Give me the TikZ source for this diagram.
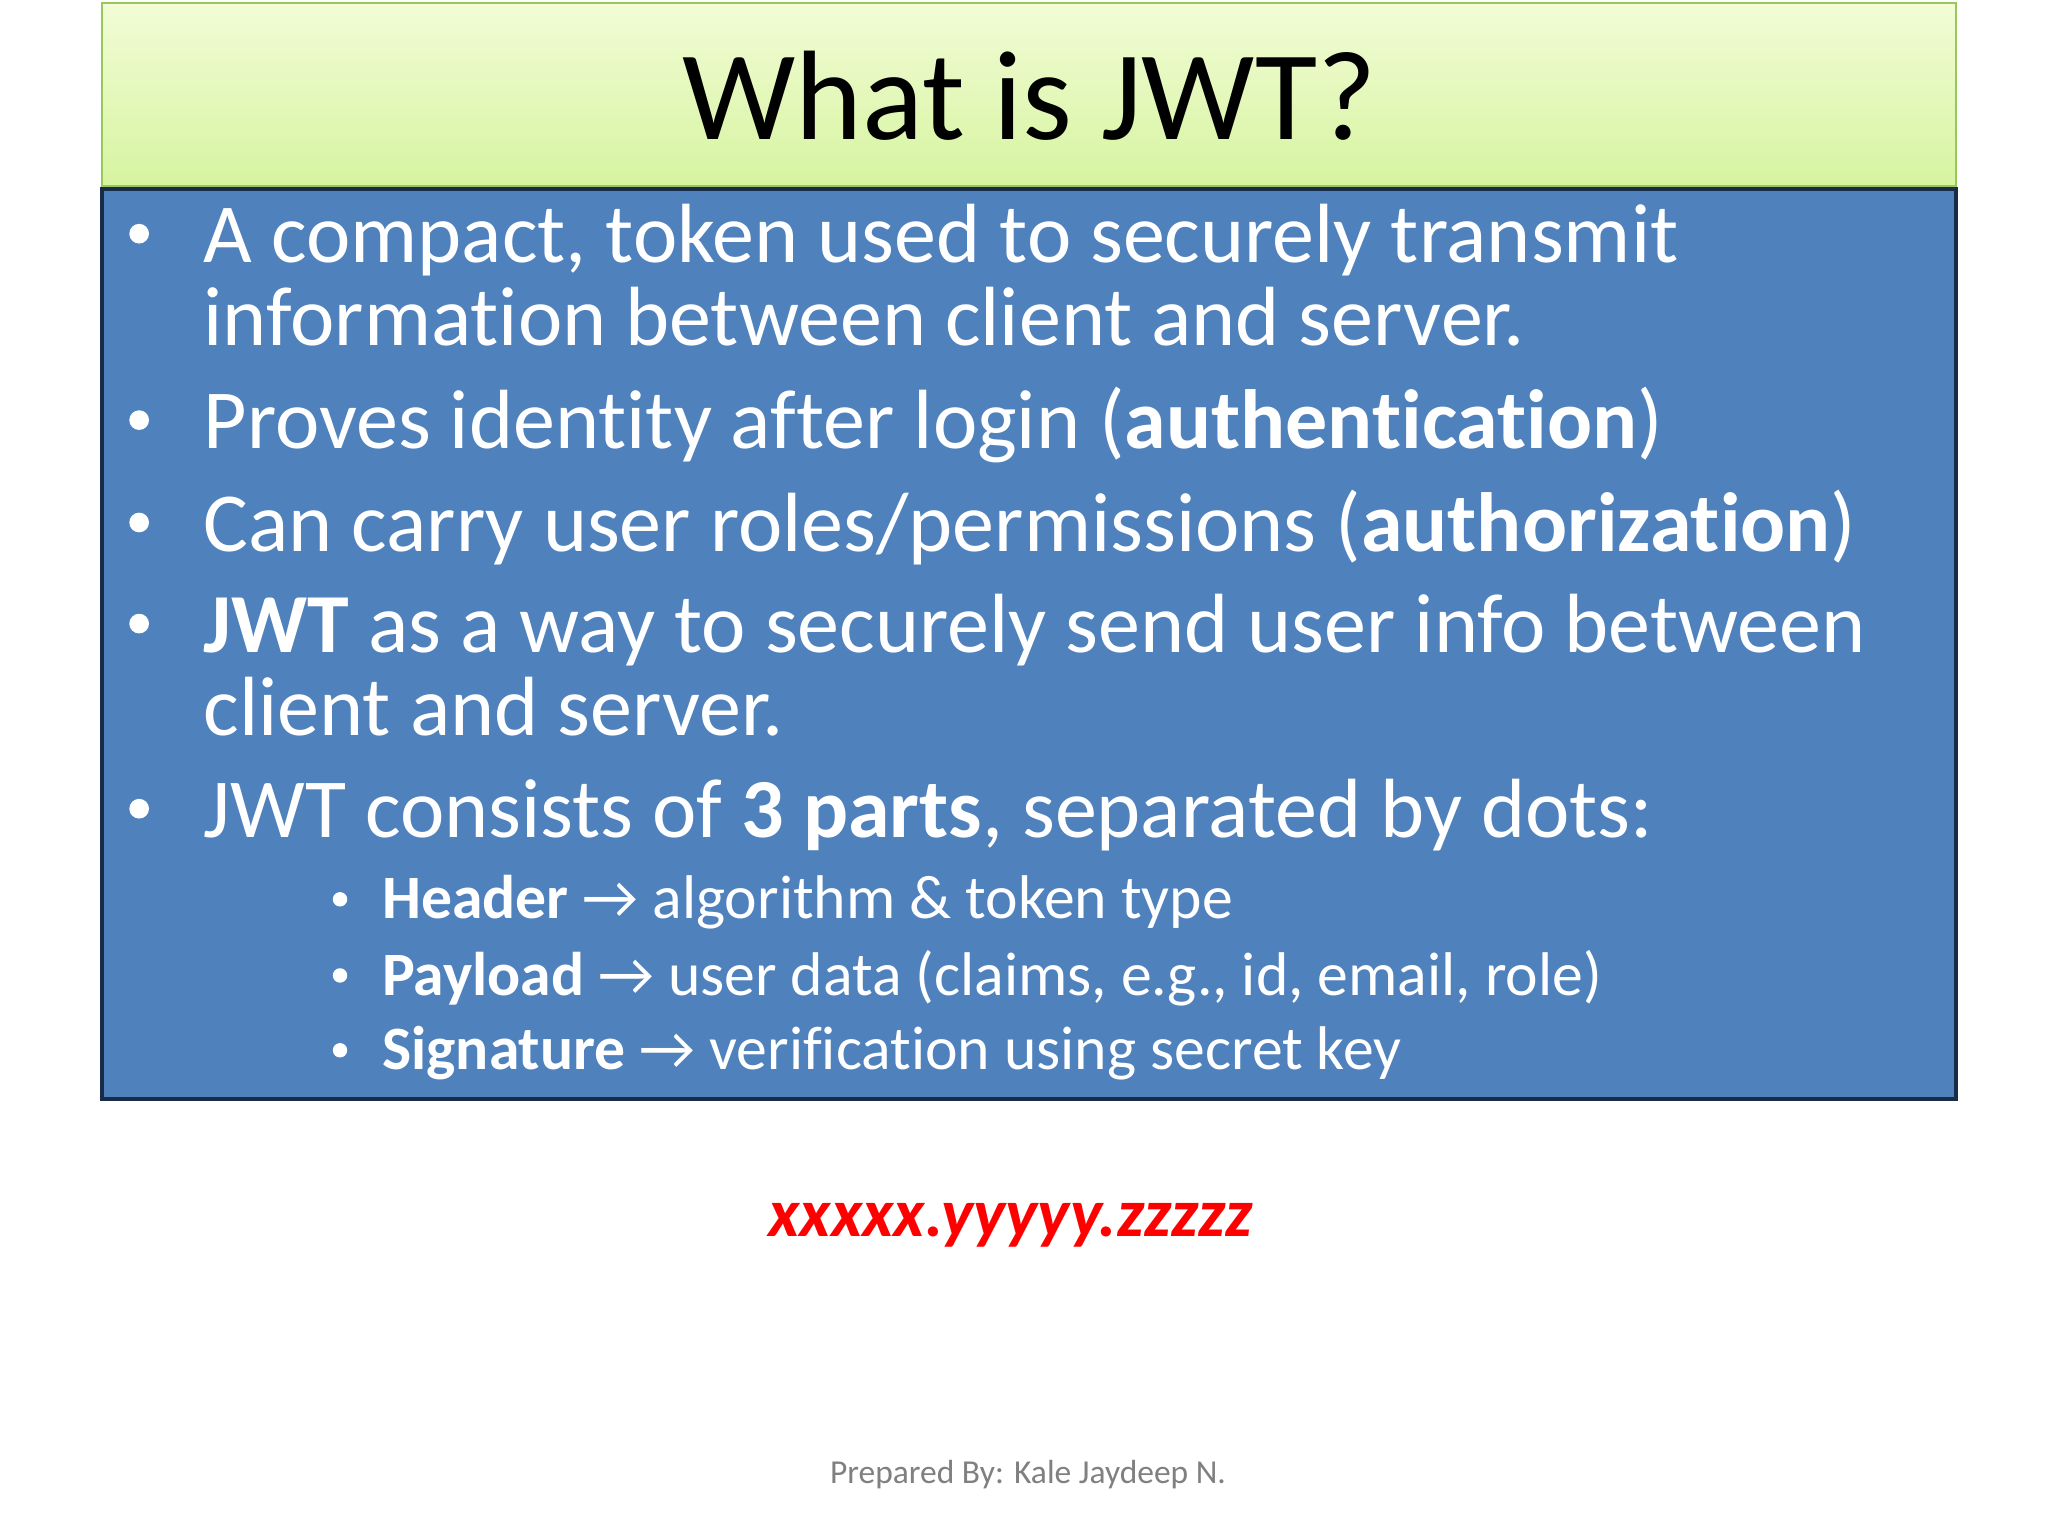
\documentclass[tikz,border=0pt]{standalone}
\usepackage{fontspec}
\setmainfont[Ligatures={NoCommon}]{Carlito}
\definecolor{blu}{RGB}{79,129,189}
\definecolor{blub}{RGB}{24,44,72}
\definecolor{gtop}{RGB}{242,252,214}
\definecolor{gbot}{RGB}{214,244,160}
\definecolor{gbd}{RGB}{150,200,90}
\begin{document}
\begin{tikzpicture}[x=1pt,y=-1pt,
  main/.style={anchor=base west,inner sep=0,text=white,font=\fontsize{64}{70}\selectfont},
  sub/.style={anchor=base west,inner sep=0,text=white,font=\fontsize{47}{52}\selectfont},
  dot/.style={circle,fill=white,inner sep=0,minimum size=#1}]
\useasboundingbox (0,0) rectangle (1560,1170);
\fill[white] (0,0) rectangle (1560,1170);
\shade[top color=gtop,bottom color=gbot] (78,2) rectangle (1490,142);
\draw[gbd,line width=1.5] (78,2) rectangle (1490,142);
\node[anchor=base,inner sep=0,font=\fontsize{97}{110}\selectfont] (title) at (784,106) {What is JWT?};
\fill[blu,draw=blub,line width=3] (78,144) rectangle (1490,837);
\foreach \n/\y in {a/178,b/320,c/398,d/475,e/616}{\node[dot=15] (bul\n) at (106,\y) {};}
\foreach \n/\y in {a/685,b/743,c/800}{\node[dot=11] (sb\n) at (259,\y) {};}
\node[main] (l1) at (155,200) {A compact, token used to securely transmit};
\node[main] (l2) at (155,263) {information between client and server.};
\node[main] (l3) at (155,342) {Proves identity after login (\textbf{authentication})};
\node[main] (l4) at (155,420) {Can carry user roles/permissions (\textbf{authorization})};
\node[main] (l5) at (155,497) {\textbf{JWT} as a way to securely send user info between};
\node[main] (l6) at (155,560) {client and server.};
\node[main] (l7) at (155,638) {JWT consists of \textbf{3 parts}, separated by dots:};
\node[sub] (s1) at (291,700) {\textbf{Header} → algorithm \& token type};
\node[sub] (s2) at (291,758) {\textbf{Payload} → user data (claims, e.g., id, email, role)};
\node[sub] (s3) at (291,815) {\textbf{Signature} → verification using secret key};
\node[anchor=base,inner sep=0,text=red,font=\fontsize{52}{58}\selectfont\bfseries\itshape] (tok) at (770,942) {xxxxx.yyyyy.zzzzz};
\node[anchor=base,inner sep=0,text=gray,font=\fontsize{25.5}{30}\selectfont] (foot) at (783,1130) {Prepared By: Kale Jaydeep N.};
\end{tikzpicture}
\end{document}
